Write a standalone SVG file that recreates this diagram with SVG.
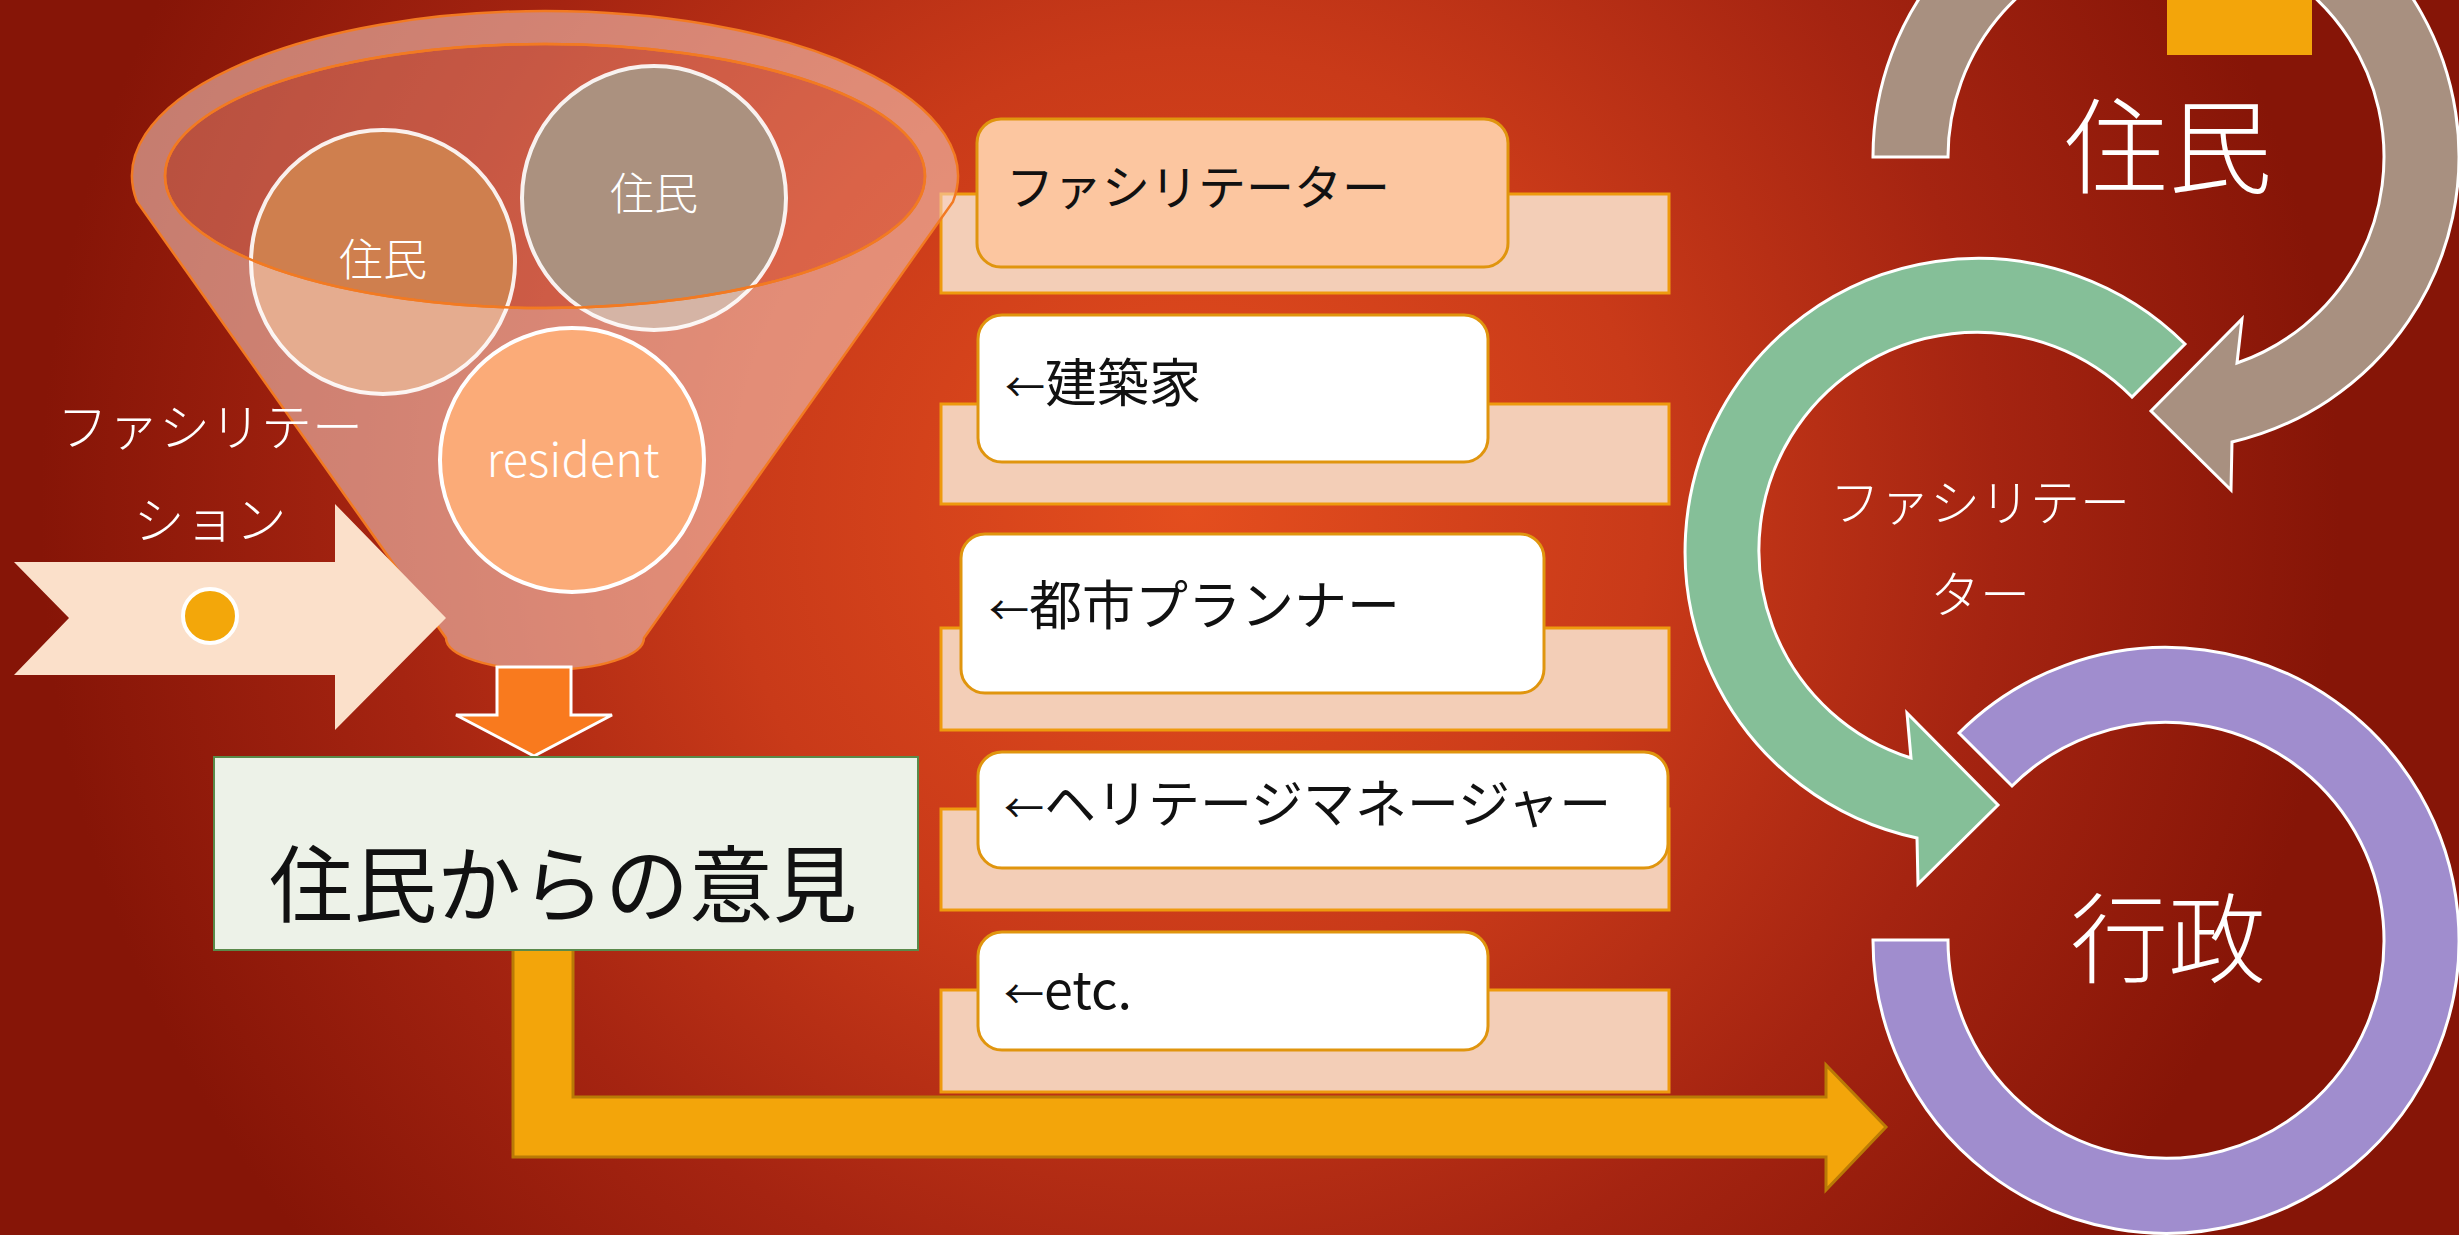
<svg xmlns="http://www.w3.org/2000/svg" width="2459" height="1235" viewBox="0 0 2459 1235">
<defs>
<radialGradient id="bg" gradientUnits="userSpaceOnUse" cx="1190" cy="510" r="1150">
<stop offset="0" stop-color="#E44E1E"/>
<stop offset="0.4" stop-color="#C93A19"/>
<stop offset="0.7" stop-color="#A52411"/>
<stop offset="1" stop-color="#861507"/>
</radialGradient>
<style>
.wt{fill:#fff;font-family:"Noto Sans CJK JP","Noto Sans",sans-serif;font-weight:300;text-anchor:middle}
.bk{fill:#111;font-family:"Noto Sans CJK JP","Noto Sans",sans-serif;font-weight:400}
.bar{fill:#F3CEB7;stroke:#EE9A0E;stroke-width:3}
.box{fill:#fff;stroke:#E0950E;stroke-width:3}
.circ{stroke:#fff;stroke-width:4}
.ring{stroke:#fff;stroke-width:3}
.arw{font-size:40px}
</style>
</defs>
<rect x="0" y="0" width="2459" height="1235" fill="url(#bg)"/>

<g id="bars">
<rect class="bar" x="941" y="194" width="728" height="99"/>
<rect class="bar" x="941" y="404" width="728" height="100"/>
<rect class="bar" x="941" y="628" width="728" height="102"/>
<rect class="bar" x="941" y="809" width="728" height="101"/>
<rect class="bar" x="941" y="990" width="728" height="102"/>
</g>

<g id="funnel">
<ellipse cx="545" cy="176" rx="380" ry="132" fill="#F09682" fill-opacity="0.45"/>
<g id="circle-left">
<circle cx="383" cy="262" r="132" fill="#CF7F4E"/>
</g>
<g id="circle-grey">
<circle cx="654" cy="198" r="132" fill="#AB917F"/>
</g>
<path d="M137,201.6 A413,165 0 1 1 953,201.6 L644,638 A99,32 0 0 1 446,638 Z M165,176 A380,132 0 1 0 925,176 A380,132 0 1 0 165,176 Z" fill="#F7D2C4" fill-opacity="0.55" fill-rule="evenodd" stroke="#F27A22" stroke-width="2.5"/>
<circle cx="383" cy="262" r="132" fill="none" class="circ" stroke-opacity="0.9"/>
<circle cx="654" cy="198" r="132" fill="none" class="circ" stroke-opacity="0.9"/>
<ellipse cx="545" cy="176" rx="380" ry="132" fill="none" stroke="#F27A22" stroke-width="2.5"/>
<text class="wt" x="383" y="276" font-size="44">住民</text>
<text class="wt" x="654" y="210" font-size="44">住民</text>
</g>

<g id="circle-resident">
<circle class="circ" cx="572" cy="460" r="132" fill="#FBAB78"/>
<text class="wt" x="573" y="477" font-size="47">resident</text>
</g>

<g id="facilitation-arrow">
<path d="M14,562 L335,562 L335,504 L446,618 L335,730 L335,675 L14,675 L69,618 Z" fill="#FBE0CA"/>
<circle cx="210" cy="616" r="27" fill="#F3A70A" stroke="#fff" stroke-width="4"/>
<text class="wt" x="210" y="446" font-size="51">ファシリテー</text>
<text class="wt" x="210" y="539" font-size="51">ション</text>
</g>

<g id="connectors">
<path id="down-arrow" d="M497,667 L571,667 L571,715 L612,715 L534,756 L456,715 L497,715 Z" fill="#F97A1E" stroke="#fff" stroke-width="3"/>
<path id="l-arrow" d="M513,949 L573,949 L573,1097 L1826,1097 L1826,1065 L1886,1127 L1826,1190 L1826,1157 L513,1157 Z" fill="#F3A50A" stroke="#B97A06" stroke-width="3"/>
</g>

<g id="opinion-box">
<rect x="214" y="757" width="704" height="193" fill="#EDF2E8" stroke="#5A8A4A" stroke-width="2"/>
<text class="bk" x="563" y="916" font-size="84" text-anchor="middle">住民からの意見</text>
</g>

<g id="box-facilitator">
<rect x="977" y="119" width="531" height="148" rx="24" fill="#FCC6A0" stroke="#E0950E" stroke-width="3"/>
<text class="bk" x="1006" y="205" font-size="48">ファシリテーター</text>
</g>
<g id="box-architect">
<rect class="box" x="978" y="315" width="510" height="147" rx="24"/>
<text class="bk" x="1005" y="402" font-size="52"><tspan class="arw">←</tspan>建築家</text>
</g>
<g id="box-planner">
<rect class="box" x="961" y="534" width="583" height="159" rx="24"/>
<text class="bk" x="989" y="625" font-size="53"><tspan class="arw">←</tspan>都市プランナー</text>
</g>
<g id="box-heritage">
<rect class="box" x="978" y="752" width="690" height="116" rx="24"/>
<text class="bk" x="1004" y="823" font-size="52"><tspan class="arw">←</tspan>ヘリテージマネージャー</text>
</g>
<g id="box-etc">
<rect class="box" x="978" y="932" width="510" height="118" rx="24"/>
<text class="bk" x="1004" y="1009" font-size="52"><tspan class="arw">←</tspan>etc.</text>
</g>

<g id="cycle">
<g id="ring-admin">
<path class="ring" d="M1873,940 A293,293 0 1 0 1959,733 L2012,786 A218,218 0 1 1 1948,940 Z" fill="#A08DCE"/>
<text class="wt" x="2168" y="975" font-size="98">行政</text>
</g>
<g id="ring-facilitator">
<path class="ring" d="M2185,344 A293,293 0 1 0 1917,838 L1918,884 L1998,805 L1907,713 L1911,758 A218,218 0 1 1 2132,397 Z" fill="#85BF98"/>
<text class="wt" x="1980" y="521" font-size="50">ファシリテー</text>
<text class="wt" x="1980" y="613" font-size="50">ター</text>
</g>
<g id="ring-residents">
<path class="ring" d="M1873,157 A293,293 0 1 1 2232,442 L2231,490 L2151,411 L2242,319 L2237,363 A218,218 0 1 0 1948,157 Z" fill="#A89080"/>
<text class="wt" x="2168" y="186" font-size="104">住民</text>
</g>
<rect id="top-tab" x="2167" y="0" width="145" height="55" fill="#F3A50A"/>
</g>
</svg>
